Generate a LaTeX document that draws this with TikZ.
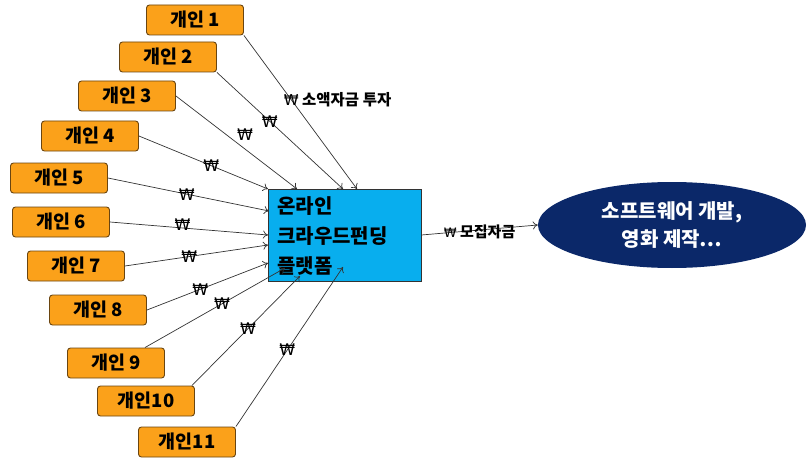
\documentclass[tikz,border=0pt]{standalone}
\usepackage{fontspec}
\usetikzlibrary{calc,shapes.geometric,arrows.meta}
\newfontfamily\kr{Noto Sans CJK KR}
\newfontfamily\wonf{DejaVu Sans}
\definecolor{orng}{HTML}{FBA11A}
\definecolor{orngline}{HTML}{6A4510}
\definecolor{cyanbox}{HTML}{08AEEE}
\definecolor{navy}{HTML}{0B2869}
\definecolor{lin}{HTML}{333333}
\begin{document}
\begin{tikzpicture}[x=1pt,y=-1pt,
  person/.style={draw=orngline,line width=0.9pt,fill=orng,rounded corners=3pt,
    minimum width=97pt,minimum height=30pt,inner sep=0pt,
    font=\kr\bfseries\fontsize{18.5}{18.5}\selectfont},
  flow/.style={draw=lin,line width=0.7pt,-{To[length=5pt,width=8pt]}},
  won/.style={font=\wonf\fontsize{16}{16}\selectfont,inner sep=0pt}]
\useasboundingbox (0,0) rectangle (807,460);
\node[person] (p1) at (195,20) {개인 1};
\node[person] (p2) at (168,57) {개인 2};
\node[person] (p3) at (127,96) {개인 3};
\node[person] (p4) at (90,136) {개인 4};
\node[person] (p5) at (59,178) {개인 5};
\node[person] (p6) at (61,222) {개인 6};
\node[person] (p7) at (76,266) {개인 7};
\node[person] (p8) at (98,310) {개인 8};
\node[person] (p9) at (116,363) {개인 9};
\node[person] (p10) at (146,401) {개인10};
\node[person] (p11) at (187,442) {개인11};
\node[draw=black!80,line width=0.8pt,fill=cyanbox,minimum width=153pt,minimum height=92pt,inner sep=0pt] (plat) at (344.5,235) {};
\node[anchor=west,font=\kr\bfseries\fontsize{20}{20}\selectfont,inner sep=0pt,align=left] (ptext) at (277,236) {온라인\\[10pt]크라우드펀딩\\[10pt]플랫폼};
\node[ellipse,fill=navy,minimum width=268pt,minimum height=86pt,inner sep=0pt,
  font=\kr\bfseries\fontsize{20}{20}\selectfont,text=white,align=center] (goal) at (672,225) {소프트웨어 개발,\\[6pt]영화 제작…};
\coordinate (e1) at (357,189);
\coordinate (e2) at (343,189);
\coordinate (e3) at (297,189);
\coordinate (e4) at (268,189);
\coordinate (e5) at (269,211);
\coordinate (e6) at (268,235);
\coordinate (e7) at (268,245);
\coordinate (e8) at (268,263);
\coordinate (e9) at (285,268);
\coordinate (e10) at (300,276);
\coordinate (e11) at (343,267);
\draw[flow] (p1.south east) -- node[pos=0.42,anchor=west,xshift=-8pt,inner sep=0pt]{\wonf\fontsize{15}{15}\selectfont ₩\kr\bfseries\fontsize{15.5}{15.5}\selectfont\ 소액자금 투자} (e1);
\draw[flow] (p2.south east) -- node[won,pos=0.42]{₩} (e2);
\draw[flow] (p3.east) -- node[won,pos=0.57,yshift=14pt]{₩} (e3);
\draw[flow] (p4.east) -- node[won,pos=0.56]{₩} (e4);
\draw[flow] (p5.east) -- node[won,pos=0.49]{₩} (e5);
\draw[flow] (p6.east) -- node[won,pos=0.46,yshift=3pt]{₩} (e6);
\draw[flow] (p7.east) -- node[won,pos=0.45]{₩} (e7);
\draw[flow] (p8.east) -- node[won,pos=0.44]{₩} (e8);
\draw[flow] ($(p9.north east)+(-20,0)$) -- node[won,pos=0.55]{₩} (e9);
\draw[flow] ($(p10.north east)+(-3,0)$) -- node[won,pos=0.52]{₩} (e10);
\draw[flow] (p11.north east) -- node[won,pos=0.48]{₩} (e11);
\draw[flow] (plat.east) -- node[pos=0.5,inner sep=0pt,yshift=-2pt]{\wonf\fontsize{13}{13}\selectfont ₩\kr\bfseries\fontsize{15}{15}\selectfont\ 모집자금} (goal.west);
\end{tikzpicture}
\end{document}
